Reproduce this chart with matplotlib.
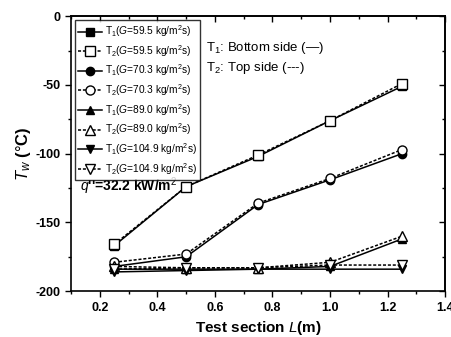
import matplotlib
matplotlib.use("Agg")
import matplotlib.pyplot as plt
from matplotlib.ticker import MultipleLocator

plt.rcParams['font.family'] = ['Liberation Sans', 'DejaVu Sans']
plt.rcParams['mathtext.fontset'] = 'custom'
plt.rcParams['mathtext.rm'] = 'Liberation Sans'
plt.rcParams['mathtext.it'] = 'Liberation Sans:italic'
plt.rcParams['mathtext.bf'] = 'Liberation Sans:bold'

L = [0.25, 0.5, 0.75, 1.0, 1.25]
G_labels = ["59.5", "70.3", "89.0", "104.9"]
markers = ["s", "o", "^", "v"]
T1 = [
    [-167, -124, -102, -76, -51],
    [-182, -175, -137, -119, -100],
    [-184, -184, -184, -182, -162],
    [-186, -185, -184, -184, -184],
]
T2 = [
    [-166, -124, -101, -76, -49],
    [-179, -173, -136, -118, -97],
    [-182, -183, -183, -179, -160],
    [-184, -183, -183, -181, -181],
]

fig = plt.figure(figsize=(4.52, 3.37), dpi=100)
ax = fig.add_axes([0.157, 0.136, 0.828, 0.816])

handles = []
for i in range(4):
    h1, = ax.plot(L, T1[i], '-', color='black', lw=1.1, marker=markers[i],
                  ms=6, mfc='black', mec='black',
                  label=r"T$_1$($\it{G}$=%s kg/m$^2$s)" % G_labels[i])
    h2, = ax.plot(L, T2[i], linestyle=(0, (2, 1.2)), color='black', lw=1.1,
                  marker=markers[i], ms=6.5, mfc='white', mec='black', mew=1.0,
                  label=r"T$_2$($\it{G}$=%s kg/m$^2$s)" % G_labels[i])
    handles += [h1, h2]

ax.set_xlim(0.1, 1.4)
ax.set_ylim(-200, 0)
ax.set_xticks([0.2, 0.4, 0.6, 0.8, 1.0, 1.2, 1.4])
ax.set_xticklabels(["0.2", "0.4", "0.6", "0.8", "1.0", "1.2", "1.4"])
ax.xaxis.set_minor_locator(MultipleLocator(0.1))
ax.set_yticks([0, -50, -100, -150, -200])
ax.set_yticklabels(["0", "-50", "-100", "-150", "-200"])
ax.yaxis.set_minor_locator(MultipleLocator(25))

for lab in ax.get_xticklabels() + ax.get_yticklabels():
    lab.set_fontweight('bold')
    lab.set_fontsize(9)

ax.tick_params(which='both', direction='out', top=False, right=False)
ax.tick_params(which='major', length=4, width=1)
ax.tick_params(which='minor', length=2.5, width=1)

sec_x = ax.secondary_xaxis('top')
sec_x.set_xticks([0.2, 0.4, 0.6, 0.8, 1.0, 1.2, 1.4])
sec_x.xaxis.set_minor_locator(MultipleLocator(0.1))
sec_x.tick_params(which='both', direction='in', labeltop=False)
sec_x.tick_params(which='major', length=4, width=1)
sec_x.tick_params(which='minor', length=2.5, width=1)
sec_y = ax.secondary_yaxis('right')
sec_y.set_yticks([0, -50, -100, -150, -200])
sec_y.yaxis.set_minor_locator(MultipleLocator(25))
sec_y.tick_params(which='both', direction='in', labelright=False)
sec_y.tick_params(which='major', length=4, width=1)
sec_y.tick_params(which='minor', length=2.5, width=1)
for s in ax.spines.values():
    s.set_linewidth(1.2)
sec_x.spines['top'].set_linewidth(1.2)
sec_y.spines['right'].set_linewidth(1.2)

ax.set_xlabel(r"Test section $\it{L}$(m)", fontsize=11, fontweight='bold', labelpad=4)
ax.set_ylabel(r"$\it{T}_{w}$ ($\degree$C)", fontsize=12, fontweight='bold', labelpad=2)

leg = ax.legend(handles=handles, loc='upper left', fontsize=7.3, frameon=True,
                fancybox=False, edgecolor='black', handlelength=2.4,
                handletextpad=0.3, borderpad=0.3, labelspacing=0.38,
                borderaxespad=0.4)
leg.get_frame().set_linewidth(1.0)

ax.text(0.362, 0.885, r"T$_1$: Bottom side (—)", transform=ax.transAxes,
        fontsize=9.5, va='center')
ax.text(0.362, 0.81, r"T$_2$: Top side (---)", transform=ax.transAxes,
        fontsize=9.5, va='center')
ax.text(0.025, 0.365, r"$\it{q}$''=32.2 kW/m$^2$", transform=ax.transAxes,
        fontsize=10, fontweight='bold')

fig.savefig("out.png", dpi=100)
